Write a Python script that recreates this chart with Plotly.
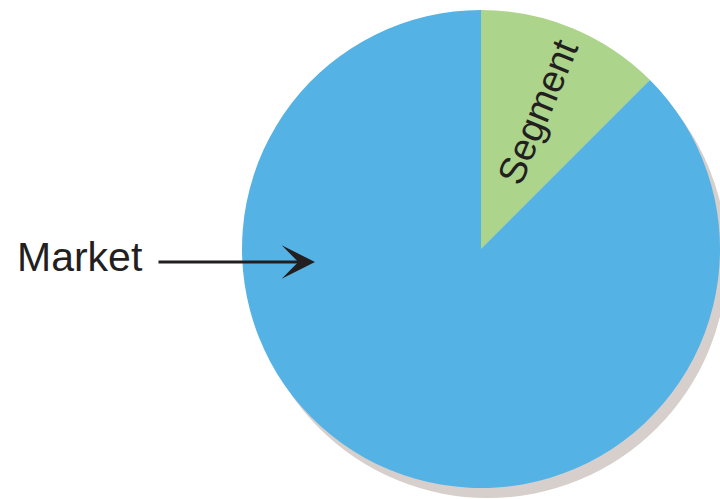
import plotly.graph_objects as go

# Data
labels = ["Segment", "Market"]
values = [12.5, 87.5]
slice_text = ["Segment", ""]
colors = ["#acd48a", "#55b2e5"]

W, H = 720, 499

# pie geometry (pixels)
left_px, right_px, top_px, bottom_px = 242, 720, 10, 488
shadow_dx, shadow_dy = 7, 10

fig = go.Figure()
fig.add_trace(go.Pie(
    labels=labels,
    values=values,
    text=slice_text,
    textinfo="text",
    textposition="inside",
    insidetextorientation="radial",
    textfont=dict(family="Liberation Sans, Arial, sans-serif", size=38, color="#231f20"),
    marker=dict(colors=colors, line=dict(width=0)),
    sort=False,
    direction="clockwise",
    rotation=0,
    showlegend=False,
    hoverinfo="label",
    domain=dict(x=[left_px / W, right_px / W], y=[(H - bottom_px) / H, (H - top_px) / H]),
))

# drop shadow behind the pie
fig.add_shape(
    type="circle", xref="paper", yref="paper", layer="below",
    x0=(left_px + shadow_dx) / W, x1=(right_px + shadow_dx) / W,
    y0=(H - bottom_px - shadow_dy) / H, y1=(H - top_px - shadow_dy) / H,
    fillcolor="#d6cfcc", line=dict(width=0),
)

# arrow pointing into the Market slice
fig.add_annotation(
    xref="paper", yref="paper", x=315 / W, y=(H - 262) / H,
    ax=-158, ay=0, axref="pixel", ayref="pixel",
    text="", showarrow=True, arrowhead=3, arrowwidth=3, arrowsize=1.85,
    arrowcolor="#231f20",
)
fig.add_annotation(
    xref="paper", yref="paper", x=15 / W, y=(H - 257) / H,
    xanchor="left", yanchor="middle", showarrow=False,
    text="Market",
    font=dict(family="Liberation Sans, Arial, sans-serif", size=41, color="#231f20"),
)

fig.update_layout(
    width=W, height=H,
    margin=dict(l=0, r=0, t=0, b=0),
    paper_bgcolor="white", plot_bgcolor="white",
)

fig.write_html(
    "out.html",
    config={"displayModeBar": False},
    post_script="document.body.style.margin='0';document.body.style.overflow='hidden';",
)
